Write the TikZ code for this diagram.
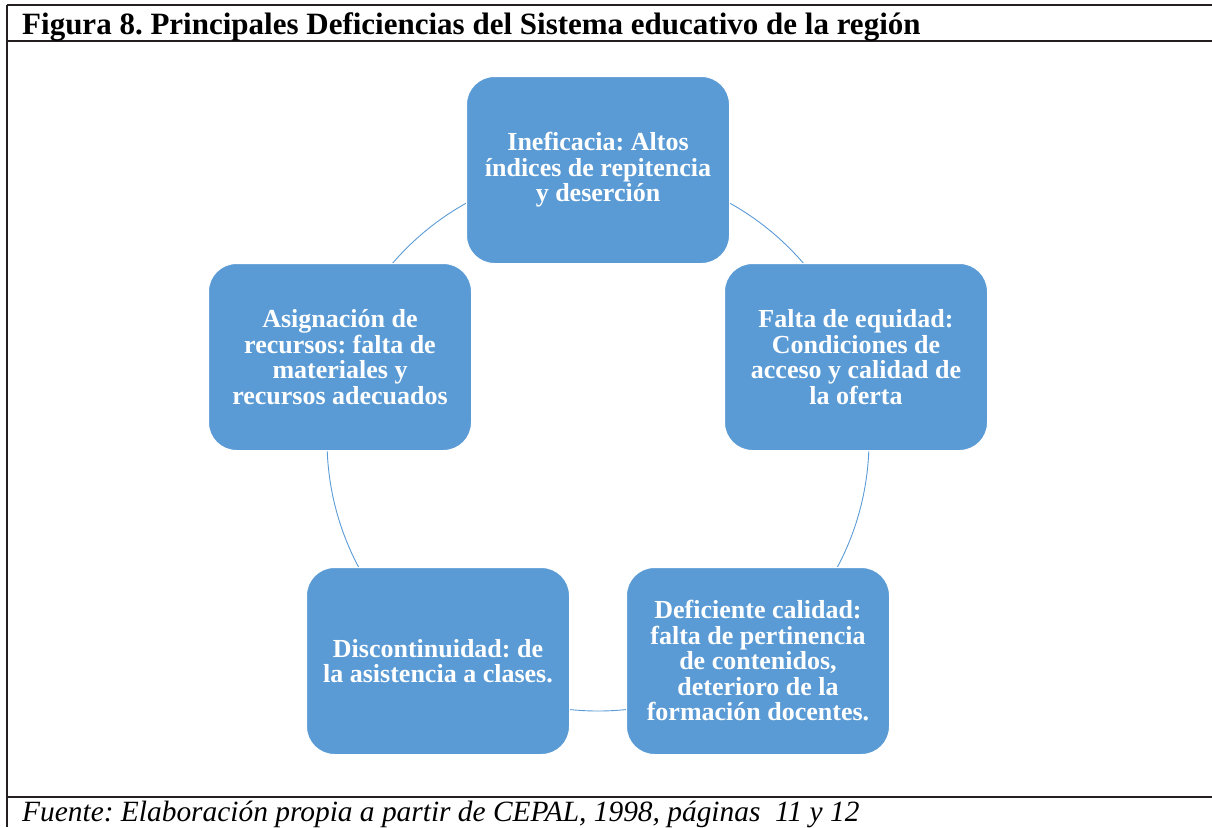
\documentclass[tikz,border=0pt]{standalone}
\usepackage{fontspec}
\setmainfont{Liberation Serif}
\frenchspacing
\usetikzlibrary{positioning}
\definecolor{boxblue}{HTML}{5B9BD5}
\definecolor{rulegray}{HTML}{231F20}
\tikzset{
    deficiency box/.style={
        draw=white,
        fill=boxblue,
        line width=1pt,
        rounded corners=28pt,
        minimum width=263pt,
        minimum height=187pt,
        text=white,
        align=center,
        font=\bfseries\fontsize{26}{25.5}\selectfont,
    },
    ring/.style={
        draw=boxblue,
        line width=0.9pt,
    },
    frame rule/.style={
        draw=rulegray,
        line width=2pt,
    },
}
\begin{document}
\begin{tikzpicture}[x=1pt,y=-1pt]
    \useasboundingbox (0,0) rectangle (1212,827);

    % frame of the figure
    \coordinate (tl) at (7,5);
    \coordinate (tr) at (1212,5);
    \coordinate (hl) at (7,41);
    \coordinate (hr) at (1212,41);
    \coordinate (fl) at (7,797);
    \coordinate (fr) at (1212,797);
    \coordinate (bl) at (7,827);
    \draw[frame rule] (tl) -- (tr);
    \draw[frame rule] (hl) -- (hr);
    \draw[frame rule] (fl) -- (fr);
    \draw[frame rule] (tl) -- (bl);

    \node[anchor=base west, inner sep=0, font=\bfseries\fontsize{31}{34}\selectfont] (title) at (22,34)
        {Figura 8. Principales Deficiencias del Sistema educativo de la región};
    \node[anchor=base west, inner sep=0, font=\itshape\fontsize{29.4}{32}\selectfont] (source) at (22,821)
        {Fuente: Elaboración propia a partir de CEPAL, 1998, páginas\ \ 11 y 12};

    % cycle
    \coordinate (centre) at (598,440);
    \draw[ring] (centre) circle [radius=271];

    \node[deficiency box] (ineficacia) at (598,170)
        {Ineficacia: Altos\\índices de repitencia\\y deserción};
    \node[deficiency box] (equidad) at (856,357)
        {Falta de equidad:\\Condiciones de\\acceso y calidad de\\la oferta};
    \node[deficiency box] (calidad) at (758,661)
        {Deficiente calidad:\\falta de pertinencia\\de contenidos,\\deterioro de la\\formación docentes.};
    \node[deficiency box] (discontinuidad) at (438,661)
        {Discontinuidad: de\\la asistencia a clases.};
    \node[deficiency box] (asignacion) at (340,357)
        {Asignación de\\recursos: falta de\\materiales y\\recursos adecuados};

\end{tikzpicture}
\end{document}
